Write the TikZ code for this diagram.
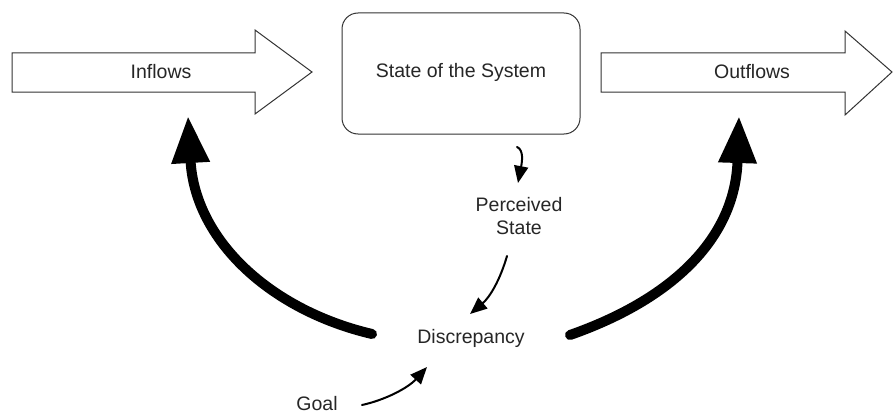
\documentclass[tikz,border=0pt]{standalone}
\usepackage{fontspec}
\setmainfont{Liberation Sans}
\usetikzlibrary{arrows.meta}
\begin{document}
\begin{tikzpicture}[x=1pt,y=-1pt,
  lbl/.style={font=\fontsize{19.5}{23}\selectfont, text=black!85, inner sep=0pt, align=center},
  blockarrow/.style={draw=black!80, line width=1pt, fill=white, line join=miter},
  statebox/.style={draw=black!80, line width=1pt, rounded corners=16pt},
  bigflow/.style={line width=10pt, line cap=round, -{Triangle[length=47pt,width=36pt]}},
  smallflow/.style={line width=2pt, line cap=round, -{Triangle[length=17pt,width=14pt]}}]
\useasboundingbox (0,0) rectangle (893,412);
% block arrows
\draw[blockarrow] (12,53) -- (255,53) -- (255,30) -- (312,72) -- (255,114) -- (255,92) -- (12,92) -- cycle;
\draw[blockarrow] (601,53) -- (845,53) -- (845,31) -- (892,72) -- (845,115) -- (845,92) -- (601,92) -- cycle;
\draw[statebox] (342,13) rectangle (580,134);
% labels
\node[lbl] (inflows) at (161,72) {Inflows};
\node[lbl] (state) at (461,72) {State of the System};
\node[lbl] (outflows) at (752,72) {Outflows};
\node[lbl] (perceived) at (519,216) {Perceived\\State};
\node[lbl] (discrepancy) at (471,338) {Discrepancy};
\node[lbl] (goal) at (317,404) {Goal};
% connector end points
\coordinate (boxout) at (517,147);
\coordinate (percin) at (518,183);
\coordinate (percout) at (507,256);
\coordinate (discin) at (470,314);
\coordinate (goalout) at (362,405);
\coordinate (discgoal) at (427,367);
\coordinate (discleft) at (372,334);
\coordinate (discright) at (570,335);
\coordinate (intip) at (188,116);
\coordinate (outtip) at (739,116);
% connectors
\draw[bigflow] (discleft) .. controls (270,310) and (195,240) .. (intip);
\draw[bigflow] (discright) .. controls (670,300) and (735,240) .. (outtip);
\draw[smallflow] (boxout) .. controls (524,150) and (522,162) .. (percin);
\draw[smallflow] (percout) .. controls (500,280) and (490,297) .. (discin);
\draw[smallflow] (goalout) .. controls (385,400) and (408,388) .. (discgoal);
\end{tikzpicture}
\end{document}
